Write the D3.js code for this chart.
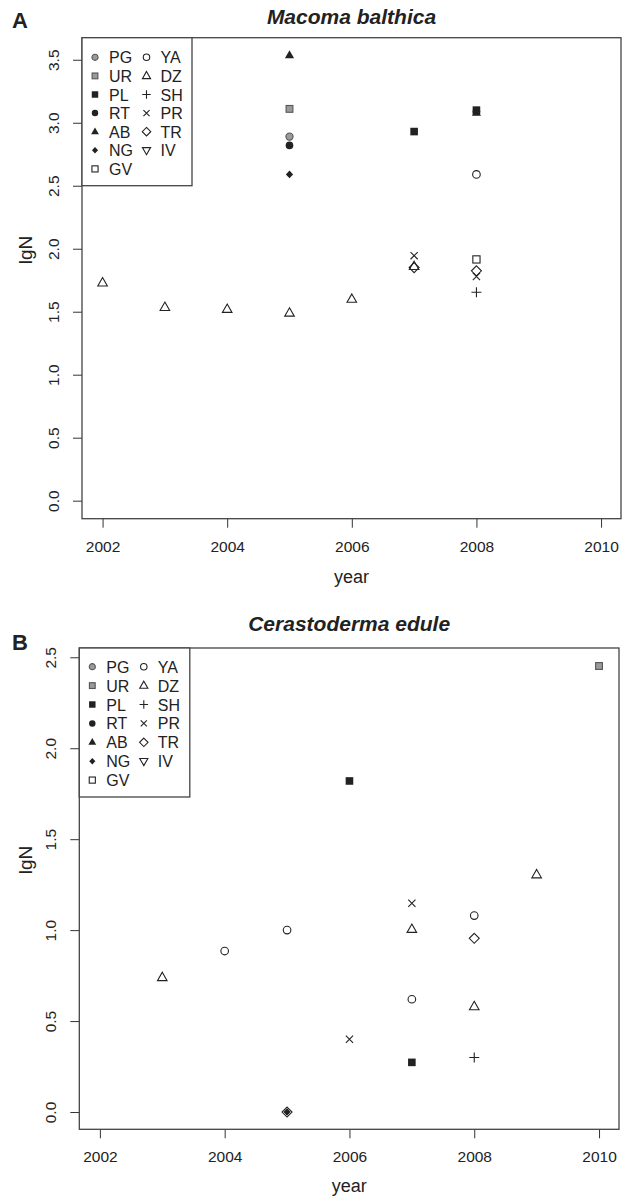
<!DOCTYPE html>
<html>
<head>
<meta charset="utf-8">
<script src="https://cdn.jsdelivr.net/npm/d3@7"></script>
<style>
  body { margin: 0; background: #fff; }
  svg { display: block; font-family: "Liberation Sans", Arial, sans-serif; }
</style>
</head>
<body>
<div id="chart"></div>
<script>
// legend order (two columns in R's legend)
const sites = ["PG", "UR", "PL", "RT", "AB", "NG", "GV", "YA", "DZ", "SH", "PR", "TR", "IV"];
const years = [2002, 2004, 2006, 2008, 2010];

// panel A: Macoma balthica
const macomaSite = ["DZ", "DZ", "DZ", "DZ", "DZ", "AB", "UR", "PG", "RT", "NG",
                    "PL", "PR", "DZ", "TR", "PL", "RT", "AB", "YA", "GV", "TR", "PR", "SH"];
const macomaYear = [2002, 2003, 2004, 2005, 2006, 2005, 2005, 2005, 2005, 2005,
                    2007, 2007, 2007, 2007, 2008, 2008, 2008, 2008, 2008, 2008, 2008, 2008];
const macomaLgN  = [1.73, 1.535, 1.52, 1.49, 1.60, 3.535, 3.11, 2.89, 2.82, 2.59,
                    2.93, 1.945, 1.86, 1.85, 3.10, 3.09, 3.08, 2.59, 1.915, 1.825, 1.78, 1.655];
const macomaTicks = [0, 0.5, 1, 1.5, 2, 2.5, 3, 3.5];

// panel B: Cerastoderma edule
const cerastoSite = ["DZ", "YA", "YA", "NG", "TR", "PL", "PR", "PL", "PR", "DZ",
                     "YA", "YA", "TR", "DZ", "SH", "DZ", "UR"];
const cerastoYear = [2003, 2004, 2005, 2005, 2005, 2006, 2006, 2007, 2007, 2007,
                     2007, 2008, 2008, 2008, 2008, 2009, 2010];
const cerastoLgN  = [0.74, 0.885, 1.0, 0.0, 0.0, 1.82, 0.40, 0.273, 1.148, 1.005,
                     0.62, 1.08, 0.955, 0.58, 0.30, 1.305, 2.452];
const cerastoTicks = [0, 0.5, 1, 1.5, 2, 2.5];

const W = 626, H = 1196;
const ink = "#222";
const grey = "#9a9a9a";

const svg = d3.select("#chart").append("svg")
    .attr("width", W)
    .attr("height", H);

// draw an R-style plotting symbol
function pch(g, site, s) {
    s = s || 1;
    const open = {fill: "none", stroke: ink, "stroke-width": 1.1};
    let el;
    if (site == "PG") {
        el = g.append("circle").attr("r", 3.6 * s).attr("fill", grey).attr("stroke", "#555").attr("stroke-width", 1.1);
    } else if (site == "UR") {
        el = g.append("rect").attr("x", -3.4 * s).attr("y", -3.4 * s).attr("width", 6.8 * s).attr("height", 6.8 * s)
            .attr("fill", grey).attr("stroke", "#555").attr("stroke-width", 1.1);
    } else if (site == "PL") {
        el = g.append("rect").attr("x", -3.8 * s).attr("y", -3.8 * s).attr("width", 7.6 * s).attr("height", 7.6 * s).attr("fill", ink);
    } else if (site == "RT") {
        el = g.append("circle").attr("r", 3.8 * s).attr("fill", ink);
    } else if (site == "AB") {
        el = g.append("path").attr("d", `M0,${-5 * s}L${4.6 * s},${3 * s}L${-4.6 * s},${3 * s}Z`).attr("fill", ink);
    } else if (site == "NG") {
        el = g.append("path").attr("d", `M0,${-3.8 * s}L${3.6 * s},0L0,${3.8 * s}L${-3.6 * s},0Z`).attr("fill", ink);
    } else if (site == "GV") {
        el = g.append("rect").attr("x", -3.6 * s).attr("y", -3.6 * s).attr("width", 7.2 * s).attr("height", 7.2 * s);
    } else if (site == "YA") {
        el = g.append("circle").attr("r", 3.8 * s);
    } else if (site == "DZ") {
        el = g.append("path").attr("d", `M0,${-5.2 * s}L${4.8 * s},${3.2 * s}L${-4.8 * s},${3.2 * s}Z`);
    } else if (site == "SH") {
        el = g.append("path").attr("d", `M${-5 * s},0H${5 * s}M0,${-5 * s}V${5 * s}`);
    } else if (site == "PR") {
        el = g.append("path").attr("d", `M${-3.6 * s},${-3.6 * s}L${3.6 * s},${3.6 * s}M${-3.6 * s},${3.6 * s}L${3.6 * s},${-3.6 * s}`);
    } else if (site == "TR") {
        el = g.append("path").attr("d", `M0,${-5 * s}L${5 * s},0L0,${5 * s}L${-5 * s},0Z`);
    } else if (site == "IV") {
        el = g.append("path").attr("d", `M0,${5.2 * s}L${4.8 * s},${-3.2 * s}L${-4.8 * s},${-3.2 * s}Z`);
    }
    if (["GV", "YA", "DZ", "SH", "PR", "TR", "IV"].includes(site)) {
        Object.entries(open).forEach(([k, v]) => el.attr(k, v));
    }
}

function panel(opts) {
    const x = d3.scaleLinear().domain([2001.67, 2010.32]).range([opts.left, opts.right]);
    const y = d3.scaleLinear().domain(opts.ydom).range([opts.bottom, opts.top]);

    const g = svg.append("g");

    // points
    opts.site.forEach((s, i) => {
        const p = g.append("g").attr("transform", `translate(${x(opts.year[i])},${y(opts.lgN[i])})`);
        pch(p, s);
    });

    // x axis
    g.append("g")
        .attr("transform", `translate(0,${opts.bottom})`)
        .call(d3.axisBottom(x).tickValues(years).tickFormat(d3.format("d")).tickSize(9).tickPadding(13))
        .call(a => a.select(".domain").remove())
        .call(a => a.selectAll("line").attr("stroke", "#333"))
        .call(a => a.selectAll("text").attr("font-size", 15.5).attr("fill", ink).attr("font-family", null));

    // y axis, labels parallel to axis
    const ya = g.append("g")
        .attr("transform", `translate(${opts.left},0)`)
        .call(d3.axisLeft(y).tickValues(opts.ticks).tickFormat(d3.format(".1f")).tickSize(9))
        .call(a => a.select(".domain").remove())
        .call(a => a.selectAll("line").attr("stroke", "#333"));
    ya.selectAll("text")
        .attr("font-size", 15.5).attr("fill", ink).attr("font-family", null)
        .attr("x", null).attr("dy", null)
        .attr("text-anchor", "middle")
        .attr("transform", `translate(${-28},0) rotate(-90) translate(0,5)`);

    // box
    g.append("rect")
        .attr("x", opts.left).attr("y", opts.top)
        .attr("width", opts.right - opts.left).attr("height", opts.bottom - opts.top)
        .attr("fill", "none").attr("stroke", "#444").attr("stroke-width", 1.3);

    // legend
    const lg = g.append("g");
    lg.append("rect")
        .attr("x", opts.left).attr("y", opts.top)
        .attr("width", opts.legW).attr("height", opts.legH)
        .attr("fill", "#fff").attr("stroke", "#444").attr("stroke-width", 1.3);
    sites.forEach((s, i) => {
        const col = i < 7 ? 0 : 1;
        const row = i < 7 ? i : i - 7;
        const sx = opts.left + 13 + col * 51.5;
        const sy = opts.legY0 + row * opts.legDy;
        pch(lg.append("g").attr("transform", `translate(${sx},${sy})`), s, 0.85);
        lg.append("text")
            .attr("x", sx + 14).attr("y", sy + 6)
            .attr("font-size", 16).attr("fill", ink)
            .text(s);
    });

    // titles and labels
    g.append("text")
        .attr("x", (opts.left + opts.right) / 2).attr("y", opts.titleY)
        .attr("text-anchor", "middle")
        .attr("font-size", 21).attr("font-weight", "bold").attr("font-style", "italic")
        .attr("fill", ink)
        .text(opts.title);
    g.append("text")
        .attr("x", 12).attr("y", opts.letterY)
        .attr("font-size", 22).attr("font-weight", "bold").attr("fill", ink)
        .text(opts.letter);
    g.append("text")
        .attr("x", (opts.left + opts.right) / 2).attr("y", opts.xlabY)
        .attr("text-anchor", "middle")
        .attr("font-size", 18).attr("fill", ink)
        .text("year");
    g.append("text")
        .attr("transform", `translate(32,${opts.ylabY}) rotate(-90)`)
        .attr("text-anchor", "middle")
        .attr("font-size", 19).attr("fill", ink)
        .text("lgN");
}

panel({
    site: macomaSite, year: macomaYear, lgN: macomaLgN, ticks: macomaTicks,
    left: 82, right: 621, top: 37.7, bottom: 518.7,
    ydom: [-0.143, 3.675],
    legW: 110, legH: 148, legY0: 57.3, legDy: 18.6,
    title: "Macoma balthica", titleY: 24, letter: "A", letterY: 28,
    xlabY: 583, ylabY: 250
});

panel({
    site: cerastoSite, year: cerastoYear, lgN: cerastoLgN, ticks: cerastoTicks,
    left: 79.3, right: 619, top: 648, bottom: 1129.3,
    ydom: [-0.095, 2.551],
    legW: 110.5, legH: 149, legY0: 666.7, legDy: 18.9,
    title: "Cerastoderma edule", titleY: 631, letter: "B", letterY: 650,
    xlabY: 1192, ylabY: 860
});
</script>
</body>
</html>
